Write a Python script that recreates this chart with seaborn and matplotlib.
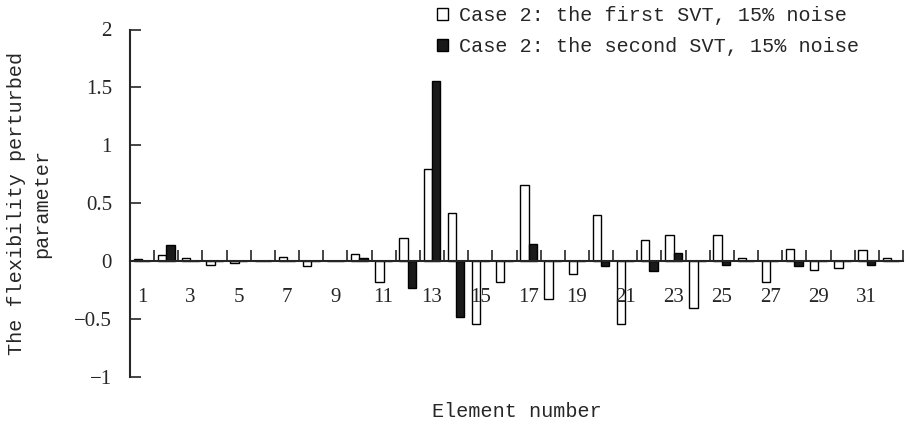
import matplotlib
matplotlib.use("Agg")
import matplotlib.pyplot as plt
import pandas as pd
import seaborn as sns

# element numbers 1..32
elements = list(range(1, 33))

# Case 2, first SVT, 15% noise
first_svt = [0.02, 0.05, 0.026, -0.034, -0.015, 0.0, 0.037, -0.043, 0.0, 0.066,
             -0.176, 0.2, 0.80, 0.416, -0.54, -0.176, 0.656, -0.325, -0.11, 0.40,
             -0.54, 0.186, 0.23, -0.405, 0.23, 0.026, -0.176, 0.106, -0.072, -0.06,
             0.095, 0.026]

# Case 2, second SVT, 15% noise
second_svt = [0.0, 0.138, 0.0, 0.0, 0.0, 0.0, 0.0, 0.0, 0.0, 0.026,
              0.0, -0.235, 1.553, -0.48, 0.0, 0.0, 0.15, 0.0, 0.0, -0.046,
              0.0, -0.086, 0.069, 0.0, -0.032, 0.0, 0.0, -0.046, 0.0, 0.0,
              -0.032, 0.0]

series_names = ["Case 2: the first SVT, 15% noise",
                "Case 2: the second SVT, 15% noise"]

yticks = [-1, -0.5, 0, 0.5, 1, 1.5, 2]
ytick_labels = ["\u22121", "\u22120.5", "0", "0.5", "1", "1.5", "2"]

df = pd.DataFrame({
    "Element": elements * 2,
    "Value": first_svt + second_svt,
    "Series": [series_names[0]] * len(elements) + [series_names[1]] * len(elements),
})

sns.set_style("ticks")
mono = "Liberation Mono"
serif = "Liberation Serif"

fig = plt.figure(figsize=(9.10, 4.26), dpi=100)
ax = fig.add_axes([130 / 910, 49 / 426, 773 / 910, 347.5 / 426])

sns.barplot(data=df, x="Element", y="Value", hue="Series", ax=ax,
            palette={series_names[0]: "white", series_names[1]: "#1a1a1a"},
            width=0.69, edgecolor="black", linewidth=1.0, errorbar=None,
            hue_order=series_names, legend=True)

ax.set_axisbelow(False)
ax.set_xlim(-0.5, len(elements) - 0.5)
ax.set_ylim(-1, 2)

# spines
ax.spines["top"].set_visible(False)
ax.spines["right"].set_visible(False)
ax.spines["bottom"].set_position(("data", 0))
ax.spines["left"].set_linewidth(1.5)
ax.spines["bottom"].set_linewidth(1.5)

# x ticks: marks on category boundaries, labels on odd element numbers
bounds = [i - 0.5 for i in range(len(elements) + 1)]
ax.set_xticks(bounds)
ax.set_xticklabels([""] * len(bounds))
label_pos = [i for i in range(0, len(elements), 2)]
ax.set_xticks(label_pos, minor=True)
ax.set_xticklabels([str(elements[i]) for i in label_pos], minor=True,
                   fontfamily=serif, fontsize=15)
ax.tick_params(axis="x", which="major", direction="in", length=8, width=1.2)
ax.tick_params(axis="x", which="minor", length=0, pad=19)

ax.set_yticks(yticks)
ax.set_yticklabels(ytick_labels, fontfamily=serif, fontsize=15)
ax.tick_params(axis="y", direction="in", length=8, width=1.2, pad=13)

ax.set_xlabel("Element number", fontfamily=mono, fontsize=14.5)
ax.xaxis.set_label_coords(0.5, -0.098)
ax.xaxis.label.set_va("center")

ax.set_ylabel("The flexibility perturbed\nparameter", fontfamily=mono,
              fontsize=14.5, linespacing=1.4)
ax.yaxis.set_label_coords(-0.131, 0.5)
ax.yaxis.label.set_va("center")

handles, labels = ax.get_legend_handles_labels()
ax.get_legend().remove()
fig.legend(handles, labels, loc="upper left", bbox_to_anchor=(437 / 910, 1 - 6 / 426),
           frameon=False, borderpad=0, borderaxespad=0, handlelength=0.55,
           handleheight=0.55, handletextpad=0.55, labelspacing=0.6,
           prop={"family": mono, "size": 14.5})

fig.savefig("out.png", dpi=100)
plt.close(fig)
